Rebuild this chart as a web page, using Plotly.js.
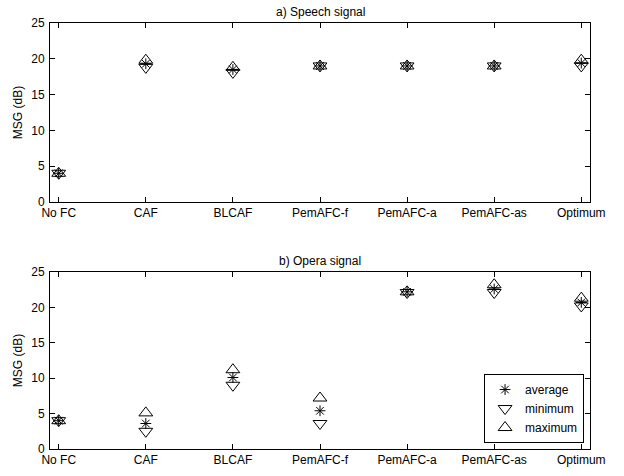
<!DOCTYPE html>
<html><head><meta charset="utf-8">
<script src="https://cdn.plot.ly/plotly-3.0.1.min.js"></script>
<style>body{margin:0;padding:0;background:#fff}#c{width:624px;height:476px}</style>
</head><body><div id="c"></div>
<script>
const categories = ["No FC","CAF","BLCAF","PemAFC-f","PemAFC-a","PemAFC-as","Optimum"];
const speechAvg = [4.0, 19.3, 18.5, 19.0, 19.0, 19.0, 19.4];
const speechMin = [4.0, 18.8, 18.1, 19.0, 19.0, 19.0, 19.0];
const speechMax = [4.0, 19.8, 18.8, 19.0, 19.0, 19.0, 19.8];
const operaAvg = [4.0, 3.6, 10.1, 5.4, 22.2, 22.6, 20.7];
const operaMin = [4.0, 2.5, 9.0, 3.6, 22.1, 22.1, 20.2];
const operaMax = [4.0, 5.1, 11.2, 7.2, 22.2, 23.2, 21.3];
const yTicks = [0,5,10,15,20,25];

const xs = categories.map((c,i)=>i+1);
function tr(y, sym, name, ax, show){
  return {x: xs, y: y, type:'scatter', mode:'markers', name:name, showlegend:show,
    xaxis: ax==1?'x':'x2', yaxis: ax==1?'y':'y2',
    marker:{symbol:sym, size: sym.startsWith('asterisk')?9:12, color:'black', line:{color:'black', width:1}}};
}
const data = [
  tr(speechAvg,'asterisk-open','average',1,false),
  tr(speechMin,'triangle-down-open','minimum',1,false),
  tr(speechMax,'triangle-up-open','maximum',1,false),
  tr(operaAvg,'asterisk-open','average',2,true),
  tr(operaMin,'triangle-down-open','minimum',2,true),
  tr(operaMax,'triangle-up-open','maximum',2,true)
];
const font = {family:'Liberation Sans, Arial, sans-serif', size:12, color:'black'};
function xa(anchor){
  return {range:[0.9,7.1], tickvals:xs, ticktext:categories, ticks:'inside', ticklen:5, tickcolor:'black',
    showline:true, linecolor:'black', linewidth:1, mirror:'ticks', showgrid:false, zeroline:false,
    anchor:anchor, tickfont:font, ticklabelstandoff:0};
}
function ya(dom, anchor){
  return {domain:dom, range:[0,25], tickvals:yTicks, ticks:'inside', ticklen:5, tickcolor:'black',
    showline:true, linecolor:'black', linewidth:1, mirror:'ticks', showgrid:false, zeroline:false,
    anchor:anchor, tickfont:font, ticklabelstandoff:2, title:{text:'MSG (dB)', font:font, standoff:6}};
}
const layout = {
  width:624, height:476, margin:{l:50, r:34, t:23, b:27},
  paper_bgcolor:'white', plot_bgcolor:'white', font:font,
  xaxis: xa('y'), yaxis: ya([0.58,1],'x'),
  xaxis2: xa('y2'), yaxis2: ya([0,0.4155],'x2'),
  showlegend:true,
  legend:{x:0.989, y:0.014, xanchor:'right', yanchor:'bottom', bgcolor:'white', bordercolor:'black', borderwidth:1,
    font:{family:font.family, size:12, color:'black'}, tracegroupgap:0, itemwidth:30},
  annotations:[
    {text:'a) Speech signal', xref:'paper', yref:'paper', x:0.5, y:1, yshift:2, xanchor:'center', yanchor:'bottom', showarrow:false, font:font},
    {text:'b) Opera signal', xref:'paper', yref:'paper', x:0.5, y:0.4155, yshift:2, xanchor:'center', yanchor:'bottom', showarrow:false, font:font}
  ]
};
Plotly.newPlot('c', data, layout, {displayModeBar:false, staticPlot:true});
</script></body></html>
